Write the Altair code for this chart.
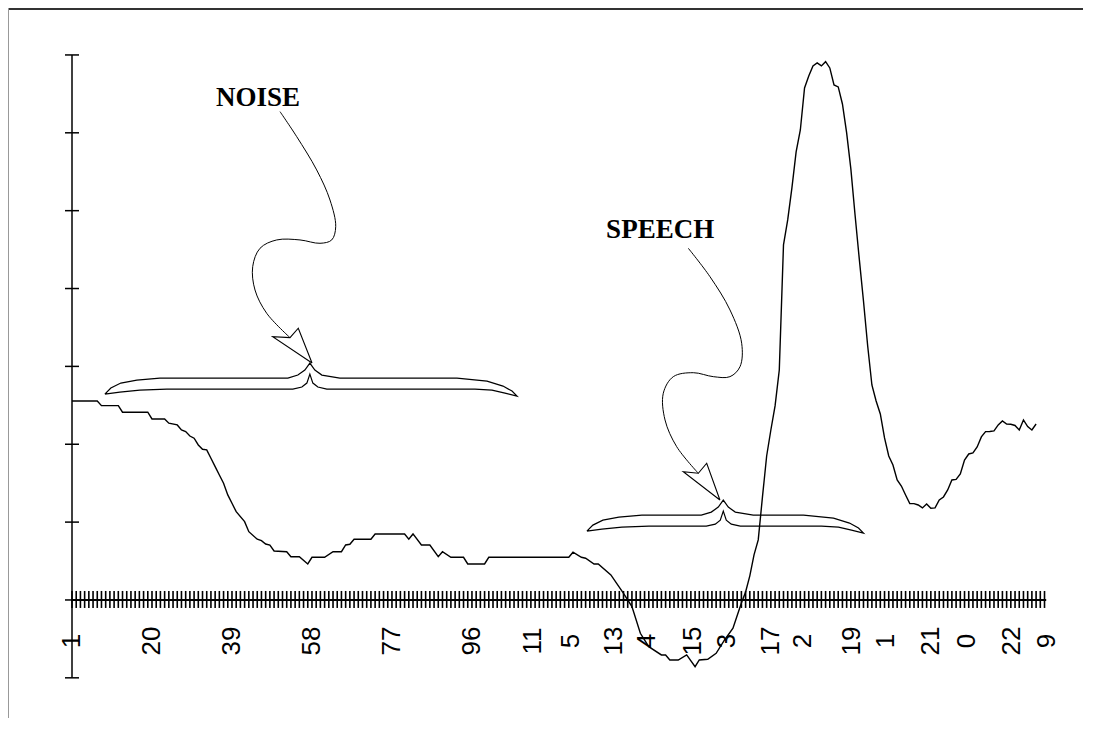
import altair as alt
import pandas as pd

# ---------------- data ----------------
sample_idx = [1, 7, 8, 12, 13, 19, 20, 23, 24, 26, 27, 28, 29, 30, 31, 32, 33, 34, 35, 36,
              37, 38, 39, 40, 42, 43, 45, 46, 47, 48, 49, 52, 53, 55, 57, 58, 61, 63, 65, 66,
              67, 68, 72, 73, 80, 81, 82, 84, 86, 88, 89, 91, 94, 95, 99, 100, 119, 120, 122, 123,
              125, 126, 129, 132, 134, 136, 138, 141, 142, 143, 145, 147, 149, 150, 152, 154, 156, 158, 160, 161,
              162, 163, 164, 165, 166, 167, 168, 169, 170, 171, 172, 173, 174, 175, 176, 177, 178, 179, 180, 181,
              182, 183, 184, 185, 186, 187, 188, 189, 190, 191, 192, 193, 194, 195, 196, 197, 198, 199, 200, 201,
              202, 203, 204, 205, 206, 207, 208, 209, 210, 211, 212, 213, 214, 215, 216, 217, 218, 219, 220, 221,
              222, 223, 224, 225, 226, 227, 228, 229, 230]
signal = [2.556, 2.556, 2.496, 2.496, 2.411, 2.411, 2.325, 2.325, 2.270, 2.248, 2.183, 2.162, 2.106, 2.077, 1.991, 1.936, 1.927, 1.820, 1.712, 1.605,
          1.499, 1.349, 1.242, 1.134, 1.006, 0.877, 0.780, 0.762, 0.719, 0.706, 0.629, 0.620, 0.556, 0.556, 0.462, 0.548, 0.548, 0.620, 0.620, 0.706,
          0.715, 0.780, 0.780, 0.848, 0.848, 0.780, 0.848, 0.706, 0.706, 0.556, 0.620, 0.548, 0.548, 0.462, 0.462, 0.548, 0.548, 0.613, 0.548, 0.536,
          0.462, 0.462, 0.321, 0.086, -0.086, -0.428, -0.600, -0.706, -0.706, -0.771, -0.771, -0.706, -0.857, -0.771, -0.762, -0.685, -0.514, -0.363, -0.040, 0.103,
          0.310, 0.580, 0.771, 1.320, 1.849, 2.183, 2.492, 2.954, 4.560, 4.881, 5.292, 5.754, 6.036, 6.576, 6.730, 6.859, 6.897, 6.859, 6.914, 6.833,
          6.614, 6.589, 6.370, 5.998, 5.536, 4.945, 4.380, 3.840, 3.262, 2.761, 2.556, 2.389, 2.081, 1.849, 1.734, 1.541, 1.464, 1.349, 1.239, 1.237,
          1.220, 1.182, 1.233, 1.178, 1.182, 1.284, 1.323, 1.413, 1.541, 1.548, 1.618, 1.798, 1.875, 1.888, 1.965, 2.094, 2.162, 2.164, 2.171, 2.248,
          2.299, 2.260, 2.257, 2.241, 2.183, 2.312, 2.226, 2.183, 2.260]

tick_label_pos = [1, 20, 39, 58, 77, 96, 110.5, 119.5, 129.7, 137.6, 148.5, 156.6, 167, 174.6, 186.3, 194.3, 205, 213.6, 224.3, 232.6]
tick_label_text = ["1", "20", "39", "58", "77", "96", "11", "5", "13", "4", "15", "3", "17", "2", "19", "1", "21", "0", "22", "9"]
n_samples = 232
y_ticks = [-1, 0, 1, 2, 3, 4, 5, 6, 7]

annot_text = ["NOISE", "SPEECH"]
annot_x = [45.2, 140.7]
annot_y = [6.45, 4.75]

# brace: start, end, centre (sample index), level (value)
brace_names = ["noise", "speech"]
brace_x0 = [8.8, 123.3]
brace_x1 = [106.7, 189.0]
brace_xc = [57.5, 155.7]
brace_y = [2.85, 1.09]

noise_shaft_x = [50.41, 54.37, 59.12, 62.28, 63.64, 62.69, 59.91, 55.16, 49.62, 45.66, 43.92, 44.47, 47.25, 52.78]
noise_shaft_y = [6.272, 5.951, 5.523, 5.137, 4.795, 4.624, 4.581, 4.624, 4.624, 4.517, 4.281, 3.981, 3.682, 3.369]
noise_head_x = [58.01, 48.67, 52.78, 54.75, 58.01]
noise_head_y = [3.044, 3.382, 3.369, 3.490, 3.044]
speech_shaft_x = [147.39, 152.54, 157.29, 160.07, 159.67, 157.29, 153.33, 148.58, 143.83, 141.45, 141.86, 144.63, 149.77]
speech_shaft_y = [4.517, 4.152, 3.725, 3.297, 2.996, 2.868, 2.868, 2.919, 2.868, 2.655, 2.312, 1.969, 1.627]
speech_head_x = [154.9, 146.2, 149.77, 151.76, 154.9]
speech_head_y = [1.284, 1.648, 1.627, 1.756, 1.284]

# ---------------- layout ----------------
W, H = 1075, 710
X_DOMAIN = [-14.202, 241.142]
Y_DOMAIN = [-1.516, 7.603]
KX = W / (X_DOMAIN[1] - X_DOMAIN[0])   # pixels per sample
KY = H / (Y_DOMAIN[1] - Y_DOMAIN[0])   # pixels per unit

xsc = alt.Scale(domain=X_DOMAIN, nice=False, zero=False)
ysc = alt.Scale(domain=Y_DOMAIN, nice=False, zero=False)


def X(f="x"):
    return alt.X(f"{f}:Q", scale=xsc, axis=None)


def Y(f="y"):
    return alt.Y(f"{f}:Q", scale=ysc, axis=None)


def brace_outline(x0, x1, xc, yb, tip_l=16, tip_r=18, thick=11, peak=15, cusp=4):
    spec = [("L", 0, tip_l), ("L", 6, 10), ("L", 16, 5), ("L", 32, 2), ("L", 55, 0),
            ("C", -22, 0), ("C", -12, -3), ("C", -5, -8), ("C", 0, -peak),
            ("C", 5, -8), ("C", 12, -3), ("C", 30, 0),
            ("R", -60, 0), ("R", -30, 3), ("R", -14, 8), ("R", -5, 13), ("R", 0, tip_r),
            ("R", -12, tip_r - 3), ("R", -25, thick + 1), ("R", -42, thick),
            ("C", 17, thick), ("C", 8, thick - 2), ("C", 3, thick - 6), ("C", 0, -cusp),
            ("C", -3, thick - 6), ("C", -8, thick - 2), ("C", -17, thick),
            ("L", 62, thick), ("L", 35, thick + 1), ("L", 15, thick + 3), ("L", 0, tip_l)]
    anchors = {"L": x0, "C": xc, "R": x1}
    return [(anchors[a] + dx / KX, yb - dy / KY) for a, dx, dy in spec]


# ---------------- tables ----------------
sig_df = pd.DataFrame({"x": sample_idx, "y": signal})

ytick_df = pd.DataFrame({"y": y_ticks, "x": [1 - 7 / KX] * len(y_ticks), "x2": [1 + 7 / KX] * len(y_ticks)})
yaxis_df = pd.DataFrame({"x": [1], "y": [min(y_ticks)], "y2": [max(y_ticks)]})
xaxis_df = pd.DataFrame({"x": [1], "x2": [n_samples + 0.4], "y": [0]})
xtick_df = pd.DataFrame({"x": list(range(1, n_samples + 1))})
xtick_df["y"] = 9 / KY
xtick_df["y2"] = -8 / KY
lab_df = pd.DataFrame({"x": tick_label_pos, "t": tick_label_text})
lab_df["y"] = -41 / KY

rows = []
for name, a, b, c, yb in zip(brace_names, brace_x0, brace_x1, brace_xc, brace_y):
    for k, (px, py) in enumerate(brace_outline(a, b, c, yb)):
        rows.append({"g": name, "o": k, "x": px, "y": py})
brace_df = pd.DataFrame(rows)

shaft_rows = []
for name, xs, ys in [("noise", noise_shaft_x, noise_shaft_y), ("speech", speech_shaft_x, speech_shaft_y)]:
    for k, (a, b) in enumerate(zip(xs, ys)):
        shaft_rows.append({"g": name, "o": k, "x": a, "y": b})
shaft_df = pd.DataFrame(shaft_rows)

head_rows = []
for name, xs, ys in [("noise", noise_head_x, noise_head_y), ("speech", speech_head_x, speech_head_y)]:
    for k, (a, b) in enumerate(zip(xs, ys)):
        head_rows.append({"g": name, "o": k, "x": a, "y": b})
head_df = pd.DataFrame(head_rows)

text_df = pd.DataFrame({"x": annot_x, "y": annot_y, "t": annot_text})

# ---------------- layers ----------------
frame_top = alt.Chart(pd.DataFrame({"a": [0]})).mark_rule(color="#333333", strokeWidth=2).encode(
    x=alt.value(0), x2=alt.value(W), y=alt.value(1))
frame_left = alt.Chart(pd.DataFrame({"a": [0]})).mark_rule(color="#999999", strokeWidth=1).encode(
    x=alt.value(0.5), y=alt.value(0), y2=alt.value(H))

yaxis = alt.Chart(yaxis_df).mark_rule(color="black", strokeWidth=1.5).encode(x=X(), y=Y(), y2="y2:Q")
yticks = alt.Chart(ytick_df).mark_rule(color="black", strokeWidth=1.5).encode(x=X(), x2="x2:Q", y=Y())
xaxis = alt.Chart(xaxis_df).mark_rule(color="black", strokeWidth=2).encode(x=X(), x2="x2:Q", y=Y())
xticks = alt.Chart(xtick_df).mark_rule(color="black", strokeWidth=1.6).encode(x=X(), y=Y(), y2="y2:Q")
labels = alt.Chart(lab_df).mark_text(
    angle=270, align="center", baseline="middle", font="Liberation Sans", fontSize=26, color="black"
).encode(x=X(), y=Y(), text="t:N")

line = alt.Chart(sig_df).mark_line(color="black", strokeWidth=1.4).encode(x=X(), y=Y())

braces = alt.Chart(brace_df).mark_line(color="black", strokeWidth=1.2).encode(
    x=X(), y=Y(), detail="g:N", order="o:Q")
shafts = alt.Chart(shaft_df).mark_line(color="black", strokeWidth=1.0, interpolate="catmull-rom").encode(
    x=X(), y=Y(), detail="g:N", order="o:Q")
heads = alt.Chart(head_df).mark_line(color="black", strokeWidth=1.1).encode(
    x=X(), y=Y(), detail="g:N", order="o:Q")
texts = alt.Chart(text_df).mark_text(
    font="Liberation Serif", fontSize=27, fontWeight="bold", color="black", align="center", baseline="middle"
).encode(x=X(), y=Y(), text="t:N")

chart = alt.layer(
    frame_top, frame_left, yaxis, yticks, xticks, xaxis, labels, line, braces, shafts, heads, texts
).properties(
    width=W, height=H, autosize=alt.AutoSizeParams(type="none"), padding=0, background="white"
).configure_view(stroke=None)

chart.save("out.html", embed_options={"renderer": "svg", "actions": False})
